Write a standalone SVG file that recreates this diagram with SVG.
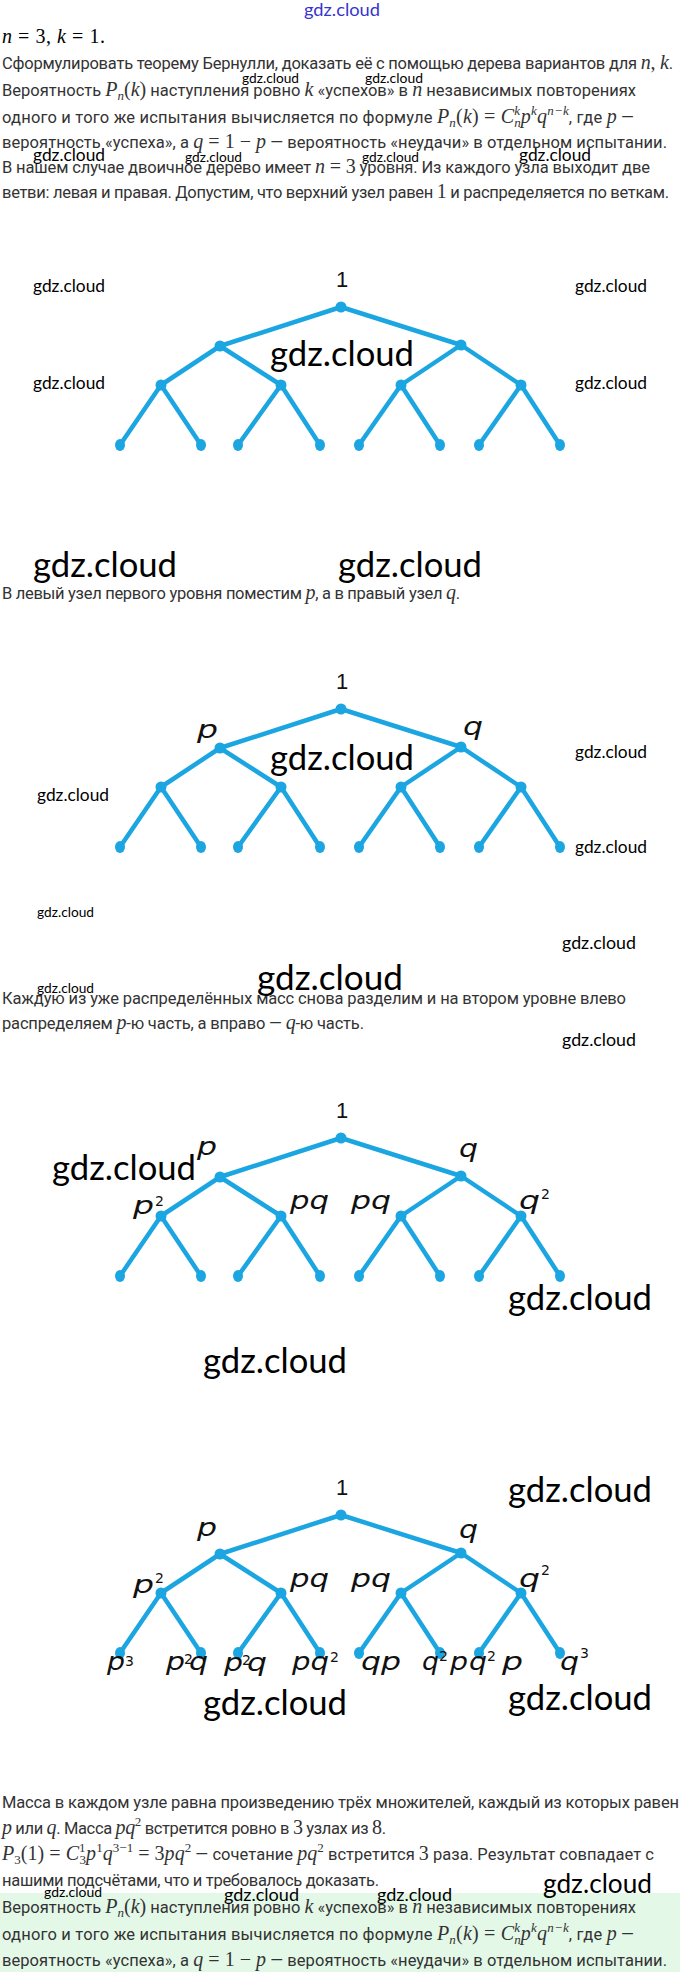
<svg xmlns="http://www.w3.org/2000/svg" width="680" height="1972" viewBox="0 0 680 1972">
<style>
.t{font-family:Roboto,"Liberation Sans",sans-serif;font-size:16.5px;fill:#333}
.mi{font-family:"Liberation Serif",serif;font-style:italic;font-size:20px}
.mr{font-family:"Liberation Serif",serif;font-style:normal;font-size:20px}
.ms{font-size:13px}
.wm{font-family:Lato,"Open Sans",sans-serif;fill:#000}
.hdr{font-family:Lato,"Open Sans",sans-serif;fill:#3535d2;font-size:18px}
.edge{stroke:#1ba5e1;stroke-width:4.5;stroke-linecap:round;fill:none}
.dot{fill:#1ba5e1}
.lab{font-family:"DejaVu Sans",sans-serif;font-style:oblique;fill:#111;font-size:24px}
.sup{font-family:"DejaVu Sans",sans-serif;fill:#111;font-size:14px}
.one{font-family:"Liberation Sans",sans-serif;fill:#111;font-size:22px;text-anchor:middle}
</style>
<rect x="0" y="0" width="680" height="1972" fill="#fff"/>
<rect x="0" y="1893" width="680" height="79" fill="#e4f8e8"/>

<!-- text -->
<g id="text">
<text x="2" y="43" class="mi" textLength="103">n<tspan class="mr"> = 3, </tspan>k<tspan class="mr"> = 1.</tspan></text>
<text x="2" y="69" class="t" textLength="671">Сформулировать теорему Бернулли, доказать её с помощью дерева вариантов для <tspan class="mi">n</tspan><tspan class="mr">, </tspan><tspan class="mi">k</tspan>.</text>
<text x="2" y="96" class="t" textLength="634">Вероятность <tspan class="mi">P</tspan><tspan class="mi ms" dy="4">n</tspan><tspan class="mr" dy="-4">(</tspan><tspan class="mi">k</tspan><tspan class="mr">)</tspan> наступления ровно <tspan class="mi">k</tspan> «успехов» в <tspan class="mi">n</tspan> независимых повторениях</text>
<text x="2" y="123" class="t" textLength="632">одного и того же испытания вычисляется по формуле <tspan class="mi">P</tspan><tspan class="mi ms" dy="4">n</tspan><tspan class="mr" dy="-4">(</tspan><tspan class="mi">k</tspan><tspan class="mr">) = </tspan><tspan class="mi">C</tspan><tspan class="mi ms" dy="-8">k</tspan><tspan class="mi ms" dx="-6" dy="12">n</tspan><tspan class="mi" dy="-4">p</tspan><tspan class="mi ms" dy="-8">k</tspan><tspan class="mi" dy="8">q</tspan><tspan class="mi ms" dy="-8">n−k</tspan><tspan dy="8">, где </tspan><tspan class="mi">p</tspan> —</text>
<text x="2" y="148" class="t" textLength="665">вероятность «успеха», а <tspan class="mi">q</tspan><tspan class="mr"> = 1 − </tspan><tspan class="mi">p</tspan> — вероятность «неудачи» в отдельном испытании.</text>
<text x="2" y="173" class="t" textLength="648">В нашем случае двоичное дерево имеет <tspan class="mi">n</tspan><tspan class="mr"> = 3</tspan> уровня. Из каждого узла выходит две</text>
<text x="2" y="198" class="t" textLength="667">ветви: левая и правая. Допустим, что верхний узел равен <tspan class="mr">1</tspan> и распределяется по веткам.</text>
<text x="2" y="599" class="t" textLength="458">В левый узел первого уровня поместим <tspan class="mi">p</tspan>, а в правый узел <tspan class="mi">q</tspan>.</text>
<text x="2" y="1004" class="t" textLength="624">Каждую из уже распределённых масс снова разделим и на втором уровне влево</text>
<text x="2" y="1029" class="t" textLength="362">распределяем <tspan class="mi">p</tspan>-ю часть, а вправо — <tspan class="mi">q</tspan>-ю часть.</text>
<text x="2" y="1808" class="t" textLength="677">Масса в каждом узле равна произведению трёх множителей, каждый из которых равен</text>
<text x="2" y="1834" class="t" textLength="384"><tspan class="mi">p</tspan> или <tspan class="mi">q</tspan>. Масса <tspan class="mi">pq</tspan><tspan class="mr ms" dy="-8">2</tspan><tspan dy="8"> встретится ровно в </tspan><tspan class="mr">3</tspan> узлах из <tspan class="mr">8</tspan>.</text>
<text x="2" y="1860" class="t" textLength="652"><tspan class="mi">P</tspan><tspan class="mr ms" dy="4">3</tspan><tspan class="mr" dy="-4">(1) = </tspan><tspan class="mi">C</tspan><tspan class="mr ms" dy="-8">1</tspan><tspan class="mr ms" dx="-6" dy="12">3</tspan><tspan class="mi" dy="-4">p</tspan><tspan class="mr ms" dy="-8">1</tspan><tspan class="mi" dy="8">q</tspan><tspan class="mr ms" dy="-8">3−1</tspan><tspan class="mr" dy="8"> = 3</tspan><tspan class="mi">pq</tspan><tspan class="mr ms" dy="-8">2</tspan><tspan dy="8"> — сочетание </tspan><tspan class="mi">pq</tspan><tspan class="mr ms" dy="-8">2</tspan><tspan dy="8"> встретится </tspan><tspan class="mr">3</tspan> раза. Результат совпадает с</text>
<text x="2" y="1886" class="t" textLength="377">нашими подсчётами, что и требовалось доказать.</text>
<text x="2" y="1913" class="t" textLength="634">Вероятность <tspan class="mi">P</tspan><tspan class="mi ms" dy="4">n</tspan><tspan class="mr" dy="-4">(</tspan><tspan class="mi">k</tspan><tspan class="mr">)</tspan> наступления ровно <tspan class="mi">k</tspan> «успехов» в <tspan class="mi">n</tspan> независимых повторениях</text>
<text x="2" y="1940" class="t" textLength="632">одного и того же испытания вычисляется по формуле <tspan class="mi">P</tspan><tspan class="mi ms" dy="4">n</tspan><tspan class="mr" dy="-4">(</tspan><tspan class="mi">k</tspan><tspan class="mr">) = </tspan><tspan class="mi">C</tspan><tspan class="mi ms" dy="-8">k</tspan><tspan class="mi ms" dx="-6" dy="12">n</tspan><tspan class="mi" dy="-4">p</tspan><tspan class="mi ms" dy="-8">k</tspan><tspan class="mi" dy="8">q</tspan><tspan class="mi ms" dy="-8">n−k</tspan><tspan dy="8">, где </tspan><tspan class="mi">p</tspan> —</text>
<text x="2" y="1966" class="t" textLength="665">вероятность «успеха», а <tspan class="mi">q</tspan><tspan class="mr"> = 1 − </tspan><tspan class="mi">p</tspan> — вероятность «неудачи» в отдельном испытании.</text>
</g>

<!-- connectors -->
<g id="connectors" class="edge">
<path d="M341 307L220 346M341 307L461 345M220 346L161 385M220 346L281 385M461 345L401 385M461 345L521 385M161 385L120 445M161 385L201 445M281 385L238 445M281 385L320 445M401 385L359 445M401 385L440 445M521 385L479 445M521 385L560 445"/>
<path d="M341 709L220 748M341 709L461 747M220 748L161 787M220 748L281 787M461 747L401 787M461 747L521 787M161 787L120 847M161 787L201 847M281 787L238 847M281 787L320 847M401 787L359 847M401 787L440 847M521 787L479 847M521 787L560 847"/>
<path d="M341 1138L220 1177M341 1138L461 1176M220 1177L161 1216M220 1177L281 1216M461 1176L401 1216M461 1176L521 1216M161 1216L120 1276M161 1216L201 1276M281 1216L238 1276M281 1216L320 1276M401 1216L359 1276M401 1216L440 1276M521 1216L479 1276M521 1216L560 1276"/>
<path d="M341 1515L220 1554M341 1515L461 1553M220 1554L161 1593M220 1554L281 1593M461 1553L401 1593M461 1553L521 1593M161 1593L120 1653M161 1593L201 1653M281 1593L238 1653M281 1593L320 1653M401 1593L359 1653M401 1593L440 1653M521 1593L479 1653M521 1593L560 1653"/>
</g>

<!-- tree A -->
<g id="a-root"><circle class="dot" cx="341" cy="307" r="5.5"/><text class="one" x="342" y="287">1</text></g>
<g id="a-p"><circle class="dot" cx="220" cy="346" r="5.5"/></g>
<g id="a-q"><circle class="dot" cx="461" cy="345" r="5.5"/></g>
<g id="a-pp"><circle class="dot" cx="161" cy="385" r="5.5"/></g>
<g id="a-pq"><circle class="dot" cx="281" cy="385" r="5.5"/></g>
<g id="a-qp"><circle class="dot" cx="401" cy="385" r="5.5"/></g>
<g id="a-qq"><circle class="dot" cx="521" cy="385" r="5.5"/></g>
<g id="a-l1"><ellipse class="dot" cx="120" cy="445" rx="5" ry="6"/></g>
<g id="a-l2"><ellipse class="dot" cx="201" cy="445" rx="5" ry="6"/></g>
<g id="a-l3"><ellipse class="dot" cx="238" cy="445" rx="5" ry="6"/></g>
<g id="a-l4"><ellipse class="dot" cx="320" cy="445" rx="5" ry="6"/></g>
<g id="a-l5"><ellipse class="dot" cx="359" cy="445" rx="5" ry="6"/></g>
<g id="a-l6"><ellipse class="dot" cx="440" cy="445" rx="5" ry="6"/></g>
<g id="a-l7"><ellipse class="dot" cx="479" cy="445" rx="5" ry="6"/></g>
<g id="a-l8"><ellipse class="dot" cx="560" cy="445" rx="5" ry="6"/></g>

<!-- tree B -->
<g id="b-root"><circle class="dot" cx="341" cy="709" r="5.5"/><text class="one" x="342" y="689">1</text></g>
<g id="b-p"><circle class="dot" cx="220" cy="748" r="5.5"/><text class="lab" x="197" y="738" font-size="27" textLength="21" lengthAdjust="spacingAndGlyphs">p</text></g>
<g id="b-q"><circle class="dot" cx="461" cy="747" r="5.5"/><text class="lab" x="463" y="735" font-size="27" textLength="20" lengthAdjust="spacingAndGlyphs">q</text></g>
<g id="b-pp"><circle class="dot" cx="161" cy="787" r="5.5"/></g>
<g id="b-pq"><circle class="dot" cx="281" cy="787" r="5.5"/></g>
<g id="b-qp"><circle class="dot" cx="401" cy="787" r="5.5"/></g>
<g id="b-qq"><circle class="dot" cx="521" cy="787" r="5.5"/></g>
<g id="b-l1"><ellipse class="dot" cx="120" cy="847" rx="5" ry="6"/></g>
<g id="b-l2"><ellipse class="dot" cx="201" cy="847" rx="5" ry="6"/></g>
<g id="b-l3"><ellipse class="dot" cx="238" cy="847" rx="5" ry="6"/></g>
<g id="b-l4"><ellipse class="dot" cx="320" cy="847" rx="5" ry="6"/></g>
<g id="b-l5"><ellipse class="dot" cx="359" cy="847" rx="5" ry="6"/></g>
<g id="b-l6"><ellipse class="dot" cx="440" cy="847" rx="5" ry="6"/></g>
<g id="b-l7"><ellipse class="dot" cx="479" cy="847" rx="5" ry="6"/></g>
<g id="b-l8"><ellipse class="dot" cx="560" cy="847" rx="5" ry="6"/></g>

<!-- tree C -->
<g id="c-root"><circle class="dot" cx="341" cy="1138" r="5.5"/><text class="one" x="342" y="1118">1</text></g>
<g id="c-p"><circle class="dot" cx="220" cy="1177" r="5.5"/><text class="lab" x="197" y="1155" textLength="20" lengthAdjust="spacingAndGlyphs">p</text></g>
<g id="c-q"><circle class="dot" cx="461" cy="1176" r="5.5"/><text class="lab" x="459" y="1157" textLength="19" lengthAdjust="spacingAndGlyphs">q</text></g>
<g id="c-pp"><circle class="dot" cx="161" cy="1216" r="5.5"/><text class="lab" x="133" y="1214" textLength="21" lengthAdjust="spacingAndGlyphs">p</text><text class="sup" x="155" y="1206">2</text></g>
<g id="c-pq"><circle class="dot" cx="281" cy="1216" r="5.5"/><text class="lab" x="290" y="1209" textLength="39" lengthAdjust="spacingAndGlyphs">pq</text></g>
<g id="c-qp"><circle class="dot" cx="401" cy="1216" r="5.5"/><text class="lab" x="351" y="1209" textLength="40" lengthAdjust="spacingAndGlyphs">pq</text></g>
<g id="c-qq"><circle class="dot" cx="521" cy="1216" r="5.5"/><text class="lab" x="519" y="1209" textLength="21" lengthAdjust="spacingAndGlyphs">q</text><text class="sup" x="541" y="1199">2</text></g>
<g id="c-l1"><ellipse class="dot" cx="120" cy="1276" rx="5" ry="6"/></g>
<g id="c-l2"><ellipse class="dot" cx="201" cy="1276" rx="5" ry="6"/></g>
<g id="c-l3"><ellipse class="dot" cx="238" cy="1276" rx="5" ry="6"/></g>
<g id="c-l4"><ellipse class="dot" cx="320" cy="1276" rx="5" ry="6"/></g>
<g id="c-l5"><ellipse class="dot" cx="359" cy="1276" rx="5" ry="6"/></g>
<g id="c-l6"><ellipse class="dot" cx="440" cy="1276" rx="5" ry="6"/></g>
<g id="c-l7"><ellipse class="dot" cx="479" cy="1276" rx="5" ry="6"/></g>
<g id="c-l8"><ellipse class="dot" cx="560" cy="1276" rx="5" ry="6"/></g>

<!-- tree D -->
<g id="d-root"><circle class="dot" cx="341" cy="1515" r="5.5"/><text class="one" x="342" y="1495">1</text></g>
<g id="d-p"><circle class="dot" cx="220" cy="1554" r="5.5"/><text class="lab" x="197" y="1536" textLength="20" lengthAdjust="spacingAndGlyphs">p</text></g>
<g id="d-q"><circle class="dot" cx="461" cy="1553" r="5.5"/><text class="lab" x="459" y="1538" textLength="19" lengthAdjust="spacingAndGlyphs">q</text></g>
<g id="d-pp"><circle class="dot" cx="161" cy="1593" r="5.5"/><text class="lab" x="133" y="1593" textLength="21" lengthAdjust="spacingAndGlyphs">p</text><text class="sup" x="155" y="1583">2</text></g>
<g id="d-pq"><circle class="dot" cx="281" cy="1593" r="5.5"/><text class="lab" x="290" y="1587" textLength="39" lengthAdjust="spacingAndGlyphs">pq</text></g>
<g id="d-qp"><circle class="dot" cx="401" cy="1593" r="5.5"/><text class="lab" x="351" y="1587" textLength="40" lengthAdjust="spacingAndGlyphs">pq</text></g>
<g id="d-qq"><circle class="dot" cx="521" cy="1593" r="5.5"/><text class="lab" x="519" y="1587" textLength="21" lengthAdjust="spacingAndGlyphs">q</text><text class="sup" x="541" y="1575">2</text></g>
<g id="d-l1"><ellipse class="dot" cx="120" cy="1653" rx="5" ry="6"/><text class="lab" x="107" y="1670" font-size="25" textLength="18" lengthAdjust="spacingAndGlyphs">p</text><text class="sup" x="125" y="1666" font-size="17">3</text></g>
<g id="d-l2"><ellipse class="dot" cx="201" cy="1653" rx="5" ry="6"/><text class="lab" x="166" y="1670" font-size="25" textLength="19" lengthAdjust="spacingAndGlyphs">p</text><text class="sup" x="184" y="1664" font-size="16">2</text><text class="lab" x="189" y="1670" font-size="25" textLength="19" lengthAdjust="spacingAndGlyphs">q</text></g>
<g id="d-l3"><ellipse class="dot" cx="238" cy="1653" rx="5" ry="6"/><text class="lab" x="224" y="1671" font-size="25" textLength="19" lengthAdjust="spacingAndGlyphs">p</text><text class="sup" x="242" y="1665" font-size="16">2</text><text class="lab" x="247" y="1671" font-size="25" textLength="20" lengthAdjust="spacingAndGlyphs">q</text></g>
<g id="d-l4"><ellipse class="dot" cx="320" cy="1653" rx="5" ry="6"/><text class="lab" x="292" y="1670" font-size="25" textLength="37" lengthAdjust="spacingAndGlyphs">pq</text><text class="sup" x="330" y="1662" font-size="16">2</text></g>
<g id="d-l5"><ellipse class="dot" cx="359" cy="1653" rx="5" ry="6"/><text class="lab" x="361" y="1670" font-size="25" textLength="40" lengthAdjust="spacingAndGlyphs">qp</text></g>
<g id="d-l6"><ellipse class="dot" cx="440" cy="1653" rx="5" ry="6"/><text class="lab" x="422" y="1670" font-size="25" textLength="17" lengthAdjust="spacingAndGlyphs">q</text><text class="sup" x="439" y="1661" font-size="16">2</text><text class="lab" x="450" y="1670" font-size="25" textLength="18" lengthAdjust="spacingAndGlyphs">p</text></g>
<g id="d-l7"><ellipse class="dot" cx="479" cy="1653" rx="5" ry="6"/><text class="lab" x="469" y="1670" font-size="25" textLength="18" lengthAdjust="spacingAndGlyphs">q</text><text class="sup" x="487" y="1661" font-size="16">2</text><text class="lab" x="502" y="1670" font-size="25" textLength="21" lengthAdjust="spacingAndGlyphs">p</text></g>
<g id="d-l8"><ellipse class="dot" cx="560" cy="1653" rx="5" ry="6"/><text class="lab" x="560" y="1670" font-size="25" textLength="19" lengthAdjust="spacingAndGlyphs">q</text><text class="sup" x="580" y="1658" font-size="17">3</text></g>

<!-- watermarks -->
<g id="watermarks" class="wm">
<text class="hdr" x="304" y="16" textLength="76" lengthAdjust="spacingAndGlyphs">gdz.cloud</text>
<text x="242" y="83" font-size="13" textLength="57" lengthAdjust="spacingAndGlyphs">gdz.cloud</text>
<text x="365" y="83" font-size="13" textLength="58" lengthAdjust="spacingAndGlyphs">gdz.cloud</text>
<text x="33" y="161" font-size="17" textLength="72" lengthAdjust="spacingAndGlyphs">gdz.cloud</text>
<text x="185" y="162" font-size="13" textLength="57" lengthAdjust="spacingAndGlyphs">gdz.cloud</text>
<text x="362" y="162" font-size="13" textLength="57" lengthAdjust="spacingAndGlyphs">gdz.cloud</text>
<text x="519" y="161" font-size="17" textLength="72" lengthAdjust="spacingAndGlyphs">gdz.cloud</text>
<text x="33" y="292" font-size="17" textLength="72" lengthAdjust="spacingAndGlyphs">gdz.cloud</text>
<text x="575" y="292" font-size="17" textLength="72" lengthAdjust="spacingAndGlyphs">gdz.cloud</text>
<text x="270" y="366" font-size="34" textLength="144" lengthAdjust="spacingAndGlyphs">gdz.cloud</text>
<text x="33" y="389" font-size="17" textLength="72" lengthAdjust="spacingAndGlyphs">gdz.cloud</text>
<text x="575" y="389" font-size="17" textLength="72" lengthAdjust="spacingAndGlyphs">gdz.cloud</text>
<text x="33" y="577" font-size="34" textLength="144" lengthAdjust="spacingAndGlyphs">gdz.cloud</text>
<text x="338" y="577" font-size="34" textLength="144" lengthAdjust="spacingAndGlyphs">gdz.cloud</text>
<text x="575" y="758" font-size="17" textLength="72" lengthAdjust="spacingAndGlyphs">gdz.cloud</text>
<text x="270" y="770" font-size="34" textLength="144" lengthAdjust="spacingAndGlyphs">gdz.cloud</text>
<text x="37" y="801" font-size="17" textLength="72" lengthAdjust="spacingAndGlyphs">gdz.cloud</text>
<text x="575" y="853" font-size="17" textLength="72" lengthAdjust="spacingAndGlyphs">gdz.cloud</text>
<text x="37" y="917" font-size="13" textLength="57" lengthAdjust="spacingAndGlyphs">gdz.cloud</text>
<text x="562" y="949" font-size="17" textLength="74" lengthAdjust="spacingAndGlyphs">gdz.cloud</text>
<text x="257" y="990" font-size="34" textLength="146" lengthAdjust="spacingAndGlyphs">gdz.cloud</text>
<text x="37" y="993" font-size="13" textLength="57" lengthAdjust="spacingAndGlyphs">gdz.cloud</text>
<text x="562" y="1046" font-size="17" textLength="74" lengthAdjust="spacingAndGlyphs">gdz.cloud</text>
<text x="52" y="1180" font-size="34" textLength="144" lengthAdjust="spacingAndGlyphs">gdz.cloud</text>
<text x="508" y="1310" font-size="34" textLength="144" lengthAdjust="spacingAndGlyphs">gdz.cloud</text>
<text x="203" y="1373" font-size="34" textLength="144" lengthAdjust="spacingAndGlyphs">gdz.cloud</text>
<text x="508" y="1502" font-size="34" textLength="144" lengthAdjust="spacingAndGlyphs">gdz.cloud</text>
<text x="203" y="1715" font-size="34" textLength="144" lengthAdjust="spacingAndGlyphs">gdz.cloud</text>
<text x="508" y="1710" font-size="34" textLength="144" lengthAdjust="spacingAndGlyphs">gdz.cloud</text>
<text x="543" y="1893" font-size="26" textLength="109" lengthAdjust="spacingAndGlyphs">gdz.cloud</text>
<text x="44" y="1897" font-size="13" textLength="58" lengthAdjust="spacingAndGlyphs">gdz.cloud</text>
<text x="224" y="1901" font-size="17" textLength="75" lengthAdjust="spacingAndGlyphs">gdz.cloud</text>
<text x="377" y="1901" font-size="17" textLength="75" lengthAdjust="spacingAndGlyphs">gdz.cloud</text>
</g>
</svg>
